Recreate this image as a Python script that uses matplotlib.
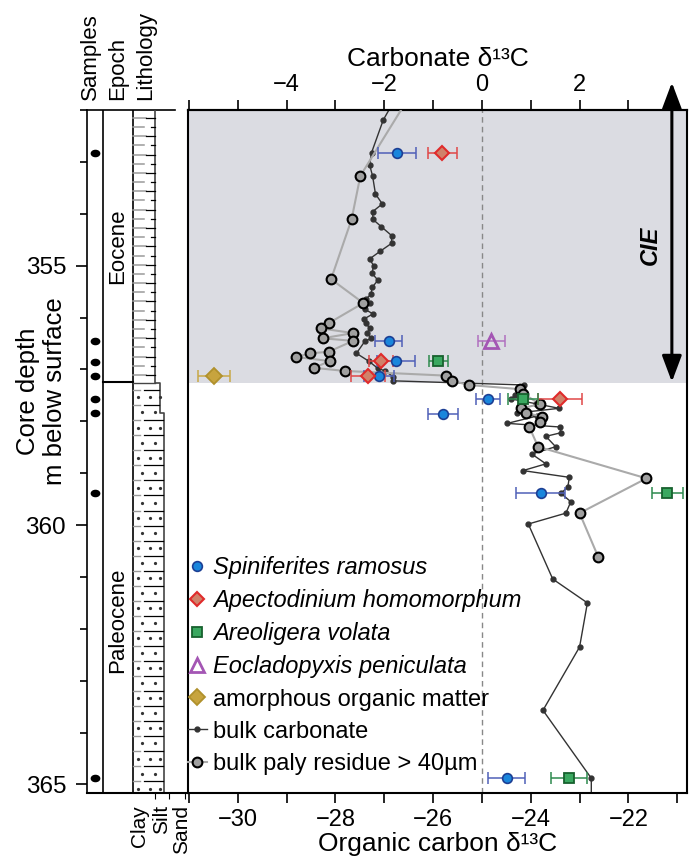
import numpy as np
import matplotlib
matplotlib.use('Agg')
import matplotlib.pyplot as plt
from matplotlib.path import Path
from matplotlib.transforms import Affine2D
from matplotlib.lines import Line2D

plt.rcParams['font.family'] = ['Liberation Sans', 'DejaVu Sans']

# ---- data (depth in m, d13C in permil) ----
carb_depth = [351.81, 352.19, 352.82, 353.06, 353.27, 353.62, 353.81, 353.96, 354.11, 354.25,
              354.42, 354.57, 354.72, 354.87, 355.00, 355.15, 355.28, 355.42, 355.55, 355.64,
              355.72, 355.84, 355.93, 356.03, 356.11, 356.21, 356.30, 356.40, 356.46, 356.69,
              356.84, 356.98, 357.03, 357.14, 357.22, 357.30, 357.49, 357.57, 357.66, 357.75,
              357.84, 357.90, 358.04, 358.11, 358.22, 358.29, 358.49, 358.63, 358.82, 358.95,
              359.08, 359.26, 359.39, 359.55, 359.77, 359.98, 361.04, 361.50, 362.35, 363.57,
              364.88, 365.30]
carb_d13c = [-1.79, -2.02, -2.26, -2.30, -2.24, -2.18, -2.04, -2.24, -2.23, -2.06,
             -1.85, -1.85, -2.08, -2.30, -2.22, -2.25, -2.13, -2.25, -2.27, -2.37,
             -2.30, -2.40, -2.23, -2.42, -2.37, -2.30, -2.35, -2.27, -2.40, -2.57,
             -2.32, -2.13, -1.98, -1.82, -1.82, 0.87, 0.68, 0.60, 1.10, 1.58,
             0.72, 1.12, 0.52, 1.60, 1.62, 1.31, 1.51, 1.02, 1.31, 0.84,
             1.79, 1.76, 1.62, 1.82, 1.72, 0.95, 1.45, 2.16, 2.00, 1.25,
             2.24, 2.24]

res_depth = [351.70, 353.27, 354.11, 355.26, 355.72, 356.11, 356.21, 356.30, 356.40, 356.45,
             356.66, 356.69, 356.76, 356.84, 356.97, 357.03, 357.12, 357.22, 357.30, 357.38,
             357.47, 357.67, 357.75, 357.84, 357.91, 358.02, 358.11, 358.49, 359.10, 359.77,
             360.61]
res_d13c = [-26.46, -27.49, -27.67, -28.09, -27.43, -28.14, -28.29, -27.64, -28.26, -27.64,
            -28.14, -28.52, -28.80, -28.12, -28.44, -27.80, -25.73, -25.61, -25.27, -24.23,
            -24.15, -23.81, -24.20, -24.10, -23.76, -23.81, -24.03, -23.85, -21.63, -23.00,
            -22.62]

spin_depth = [352.82, 356.45, 356.84, 357.13, 357.57, 357.85, 359.39, 364.88]
spin_d13c = [-26.74, -26.91, -26.76, -27.11, -24.88, -25.79, -23.80, -24.49]
spin_err = [0.38, 0.27, 0.38, 0.30, 0.25, 0.31, 0.50, 0.38]

apec_depth = [352.82, 356.84, 357.13, 357.57]
apec_d13c = [-25.81, -27.07, -27.34, -23.40]
apec_err = [0.30, 0.24, 0.35, 0.45]

areo_depth = [356.84, 357.57, 359.39, 364.88]
areo_d13c = [-25.89, -24.16, -21.20, -23.21]
areo_err = [0.20, 0.31, 0.31, 0.37]

eocl_depth = [356.45]
eocl_d13c = [-24.81]
eocl_err = [0.28]

aom_depth = [357.13]
aom_d13c = [-30.49]
aom_err = [0.33]

sample_depth = [352.82, 356.45, 356.85, 357.12, 357.57, 357.84, 359.39, 364.88]

cie_base = 357.26
epoch_boundary = 357.25
silt_base = 357.84
depth_lim = (365.17, 352.0)
org_lim = (-31.02, -20.8)
offset = 25.0   # carbonate = organic + 25 on the shared scale

# ---- figure ----
fig = plt.figure(figsize=(6.94, 8.65), dpi=100)
W, H = 694.0, 865.0
ax = fig.add_axes([188 / W, 1 - 793.3 / H, 499 / W, 683.3 / H])
ax0 = fig.add_axes([87 / W, 1 - 793.3 / H, 101 / W, 683.3 / H])

# main panel
ax.set_ylim(*depth_lim)
ax.set_xlim(*org_lim)
ax.axhspan(depth_lim[1], cie_base, color='#dbdce2', zorder=0, lw=0)
ax.axvline(-25, color='#888888', ls=(0, (4, 3)), lw=1, zorder=1)

carb_org = np.array(carb_d13c) - offset
ax.plot(carb_org, carb_depth, '-o', color='#333333', lw=1, ms=3.5, zorder=2)
ax.plot(res_d13c, res_depth, '-', color='#aaaaaa', lw=1.5, zorder=3)
ax.plot(res_d13c, res_depth, 'o', mfc='#a0a0a0', mec='black', mew=1.5, ms=7, zorder=3.5)

groups = [
    (spin_d13c, spin_depth, spin_err, '#5060b8', dict(marker='o', mfc='#1a86dc', mec='#1c3f94', ms=7, mew=1.2)),
    (apec_d13c, apec_depth, apec_err, '#e04848', dict(marker='D', mfc='#d0826a', mec='#e02b2b', ms=7.5, mew=1.5)),
    (areo_d13c, areo_depth, areo_err, '#2e8a4e', dict(marker='s', mfc='#3aa860', mec='#17612e', ms=6.5, mew=1.3)),
    (eocl_d13c, eocl_depth, eocl_err, '#b070c0', dict(marker='^', mfc='none', mec='#a456b4', ms=10, mew=2)),
    (aom_d13c, aom_depth, aom_err, '#c8a848', dict(marker='D', mfc='#c7a43e', mec='#b0912c', ms=8, mew=1.3)),
]
for xv, yv, ev, ec, mk in groups:
    ax.errorbar(xv, yv, xerr=ev, fmt='none', ecolor=ec, elinewidth=1.1, capsize=4, capthick=1.1, zorder=4)
for xv, yv, ev, ec, mk in groups:
    ax.plot(xv, yv, ls='none', zorder=5, **mk)

# CIE arrow and label
ax.annotate('', xy=(-21.11, 351.47), xytext=(-21.11, 357.24), annotation_clip=False,
            arrowprops=dict(arrowstyle='<|-|>,head_length=0.8,head_width=0.3', color='black',
                            lw=2.2, mutation_scale=20, shrinkA=0, shrinkB=0))
ax.text(-21.56, 354.6, 'CIE', rotation=90, fontsize=17, fontweight='bold', fontstyle='italic',
        ha='center', va='center')

# axes styling
for s in ax.spines.values():
    s.set_linewidth(1.5)
ax.set_yticks([])
ax.set_xticks(np.arange(-30, -21, 2))
ax.set_xticks(np.arange(-31, -20, 1), minor=True)
ax.tick_params(axis='x', which='both', direction='out', length=7, width=1.2, labelsize=17, pad=4)
ax.set_xlabel('Organic carbon δ¹³C', fontsize=19, labelpad=1)

sec = ax.secondary_xaxis('top', functions=(lambda x: x + offset, lambda x: x - offset))
sec.set_xticks(np.arange(-4, 3, 2))
sec.set_xticks(np.arange(-6, 5, 1), minor=True)
sec.tick_params(axis='x', which='both', direction='out', length=7, width=1.2, labelsize=17, pad=3)
sec.spines['top'].set_linewidth(1.5)
sec.set_xlabel('Carbonate δ¹³C', fontsize=19, labelpad=6)

# legend
handles = [
    Line2D([], [], ls='none', **groups[0][4]),
    Line2D([], [], ls='none', **groups[1][4]),
    Line2D([], [], ls='none', **groups[2][4]),
    Line2D([], [], ls='none', **groups[3][4]),
    Line2D([], [], ls='none', **groups[4][4]),
    Line2D([], [], color='#333333', lw=1, marker='o', ms=3.5),
    Line2D([], [], color='#aaaaaa', lw=1.5, marker='o', mfc='#a0a0a0', mec='black', mew=1.5, ms=7),
]
labels = ['Spiniferites ramosus', 'Apectodinium homomorphum', 'Areoligera volata',
          'Eocladopyxis peniculata', 'amorphous organic matter', 'bulk carbonate',
          'bulk paly residue > 40µm']
leg = ax.legend(handles, labels, loc='lower left', bbox_to_anchor=(0.0, 0.027), frameon=False,
                fontsize=17, handlelength=0.8, handletextpad=0.25, labelspacing=0.43,
                borderpad=0, borderaxespad=0)
for t in leg.get_texts()[:4]:
    t.set_fontstyle('italic')

# ---- left columns: samples / epoch / lithology ----
ax0.set_xlim(0, 101)
ax0.set_ylim(*depth_lim)
ax0.patch.set_visible(False)
for k in ['top', 'right']:
    ax0.spines[k].set_visible(False)
ax0.spines['left'].set_linewidth(1.2)
ax0.spines['bottom'].set_linewidth(1.5)
ax0.plot([0, 88], [depth_lim[1], depth_lim[1]], color='black', lw=1.2, clip_on=False)
ax0.set_yticks([355, 360, 365])
ax0.set_yticks(np.arange(352, 366, 1), minor=True)
ax0.tick_params(axis='y', which='major', length=8, width=1.2, labelsize=17.5, pad=7)
ax0.tick_params(axis='y', which='minor', length=5, width=1.2)
ax0.set_xticks([68, 81.5, 98.5])
ax0.set_xticklabels([])
ax0.tick_params(axis='x', length=4, width=0.8)

for xc in [16, 46]:
    ax0.axvline(xc, color='black', lw=1.2)
ax0.plot([16, 46], [epoch_boundary, epoch_boundary], color='black', lw=1.5)

ell = Path.unit_circle().transformed(Affine2D().scale(1.35, 1.0))
ax0.plot([8] * len(sample_depth), sample_depth, ls='none', marker=ell, ms=6, color='black')

# lithology outline and pattern
ax0.plot([68, 68, 73, 73, 77, 77], [depth_lim[1], cie_base, cie_base, silt_base, silt_base, depth_lim[0]],
         color='#444444', lw=1.2)
ax0.plot([46, 68], [cie_base, cie_base], color='#444444', lw=1.0)
for i, yy in enumerate(np.arange(352.15, cie_base - 0.05, 0.177)):
    if i % 2 == 0:
        ax0.plot([46, 59], [yy, yy], color='#9a9a9a', lw=1.1)
        ax0.plot([59, 68], [yy, yy], color='black', lw=0.9)
    else:
        ax0.plot([46, 57], [yy, yy], color='#9a9a9a', lw=1.1)
        ax0.plot([64, 68], [yy, yy], color='black', lw=0.9)
for i, yy in enumerate(np.arange(357.40, depth_lim[0] - 0.05, 0.29)):
    right = 72 if yy < silt_base else 76
    ax0.plot([46, 53], [yy, yy], color='#9a9a9a', lw=1.0)
    ax0.plot([57, right], [yy, yy], color='black', lw=0.9)
    dots_x = [51, 63, 73] if i % 2 == 0 else [55, 68]
    ax0.plot(dots_x, [yy + 0.14] * len(dots_x), ls='none', marker='o', ms=1.3, color='#333333')

ax0.text(31, 354.63, 'Eocene', rotation=90, fontsize=16, ha='center', va='center')
ax0.text(31, 361.83, 'Paleocene', rotation=90, fontsize=16, ha='center', va='center')

# column headers and lithology scale
for xp, s in [(90, 'Samples'), (118, 'Epoch'), (145.5, 'Lithology')]:
    fig.text(xp / W, 1 - 100 / H, s, rotation=90, fontsize=16, ha='center', va='bottom')
for xp, s in [(140, 'Clay'), (161.5, 'Silt'), (181.5, 'Sand')]:
    fig.text(xp / W, 1 - 805 / H, s, rotation=90, fontsize=15, ha='center', va='top')

fig.text(41.5 / W, 1 - 391.5 / H, 'Core depth\nm below surface', rotation=90, fontsize=18.5,
         ha='center', va='center', multialignment='center', linespacing=1.15)

fig.savefig('out.png', dpi=100)
